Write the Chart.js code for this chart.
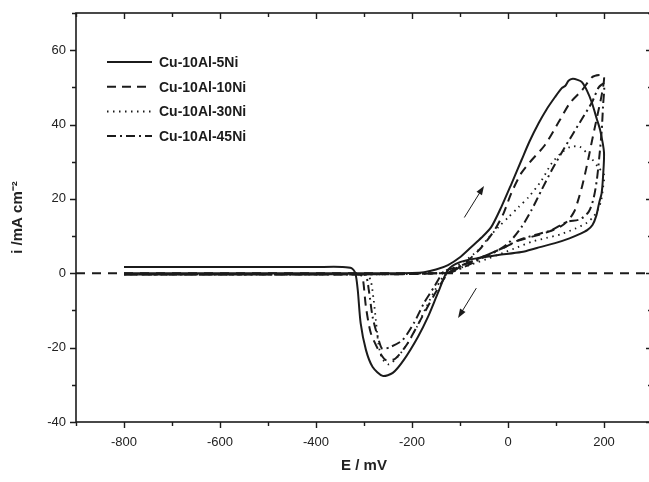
<!DOCTYPE html>
<html>
<head>
<meta charset="utf-8">
<script src="https://cdn.jsdelivr.net/npm/chart.js@4.4.0/dist/chart.umd.min.js"></script>
<style>
  html, body { margin: 0; padding: 0; background: #fff; overflow: hidden; }
  #wrap { width: 649px; height: 482px; overflow: hidden; }
</style>
</head>
<body>
<div id="wrap"><canvas id="cv" width="653" height="482"></canvas></div>
<script>
// Cyclic voltammograms, E in mV, i in mA cm-2 (forward sweep then reverse)
const ni5E = [-800, -600, -400, -300, -250, -200, -175, -150, -125, -100, -77, -55, -35, -14, 7, 28, 45, 64, 80, 98, 112, 120, 126, 135, 145, 154, 165, 175, 185, 192, 200,
  198, 195, 190, 184, 176, 165, 150, 128, 98, 60, 28, -20, -62, -100, -125, -146, -167, -188, -217, -240, -261, -282, -296, -307, -313, -318, -326, -345, -400, -600, -800];
const ni5I = [0, 0, 0, 0, 0, 0.1, 0.3, 1, 2.2, 4.3, 7, 9.6, 12.4, 17.8, 24, 30.4, 35.5, 40.4, 44, 47.4, 49.8, 50.5, 51.8, 52.3, 52, 51.4, 49, 45.8, 41.5, 38.5, 32.5,
  26, 21.5, 19, 15.5, 13, 11.6, 10.6, 9.4, 8.1, 6.8, 5.7, 4.9, 4.1, 3, 0.9, -5.3, -11.8, -17.2, -23.3, -26.8, -27.6, -25.2, -20.6, -13.4, -4.5, 0, 1.4, 1.7, 1.7, 1.7, 1.7];

const ni10E = [-800, -600, -400, -300, -200, -150, -118, -83, -55, -28, -9, 7, 28, 49, 77, 108, 129, 154, 175, 190, 200,
  196, 188, 181, 174, 168, 161, 154, 146, 138, 126, 110, 85, 55, 22, -7, -35, -70, -104, -125, -150, -180, -210, -235, -255, -270, -286, -296, -303, -310, -400, -600, -800];
const ni10I = [-0.3, -0.3, -0.3, -0.3, -0.2, 0, 0.3, 3.5, 7, 11.6, 16.2, 21.6, 27, 30.4, 34.5, 41.2, 45.8, 49.2, 52.7, 53.3, 53,
  48.5, 43.5, 39.3, 35, 31.2, 27, 23.2, 19.6, 16.6, 14.3, 12.6, 11.2, 10, 8.8, 7, 5.4, 3.5, 1.7, 0, -5, -12, -19, -23, -23.3, -20.6, -16, -9, -1, -0.3, -0.3, -0.3, -0.3];

const ni30E = [-800, -600, -400, -300, -200, -150, -130, -97, -62, -41, -20, 1, 22, 43, 70, 91, 112, 130, 150, 170, 188, 200,
  198, 194, 187, 178, 165, 140, 110, 80, 50, 20, -10, -45, -80, -115, -135, -150, -170, -190, -210, -230, -248, -262, -270, -275, -280, -286, -295, -400, -600, -800];
const ni30I = [-0.3, -0.3, -0.3, -0.3, -0.2, 0, 0.5, 2.7, 6.2, 9.5, 12.4, 15.1, 17.8, 20.5, 25, 29.6, 32.5, 34, 34, 31.5, 28.5, 26.5,
  23, 19.5, 17, 15.2, 13.6, 12, 10.5, 9.5, 8.5, 7, 5.5, 3.8, 2.2, 0.8, -1, -4, -9, -14.5, -19, -22.5, -24.5, -23, -19, -13, -7, -2, -0.3, -0.3, -0.3, -0.3];

const ni45E = [-800, -600, -400, -300, -200, -150, -118, -83, -49, -20, 1, 28, 49, 70, 91, 112, 133, 154, 175, 189, 200,
  198, 195, 190, 185, 178, 168, 150, 122, 91, 56, 22, -7, -35, -70, -104, -133, -154, -175, -196, -220, -245, -262, -271, -282, -290, -297, -320, -600, -800];
const ni45I = [-0.3, -0.3, -0.3, -0.3, -0.2, 0, 0.3, 2.2, 4.4, 6.2, 8.1, 12.4, 17, 22.4, 27.7, 32.5, 37, 41.5, 46, 50, 51,
  45, 38, 31, 25, 20, 16.5, 14.5, 13.8, 11.6, 10.3, 8.9, 7, 5.4, 3.5, 1.7, 0.5, -3.7, -8, -13.4, -18, -19.8, -20.3, -17.2, -11.8, -4.5, -0.5, -0.3, -0.3, -0.3];

const seriesLabels = ['Cu-10Al-5Ni', 'Cu-10Al-10Ni', 'Cu-10Al-30Ni', 'Cu-10Al-45Ni'];
const seriesDash = [[], [9, 6], [1.5, 4.5], [9, 4, 2, 4]];

// sweep direction arrows, [E0, i0, E1, i1]
const arrowUp = [-91, 15, -50, 23.5];
const arrowDown = [-66, -4, -104, -12];

const zeroLineE = [-900, 300];

const xMin = -900, xMax = 300, yMin = -40, yMax = 70;
const ink = '#1b1b1b';

function pts(xs, ys) {
    return xs.map((x, k) => ({ x: x, y: ys[k] }));
}

const curves = [pts(ni5E, ni5I), pts(ni10E, ni10I), pts(ni30E, ni30I), pts(ni45E, ni45I)];

const datasets = curves.map((d, k) => ({
    label: seriesLabels[k],
    data: d,
    borderColor: ink,
    borderWidth: k === 2 ? 1.8 : 2,
    borderDash: seriesDash[k],
    pointRadius: 0,
    tension: 0.25,
    fill: false
}));
datasets.push({
    label: 'zero',
    data: zeroLineE.map(x => ({ x: x, y: 0 })),
    borderColor: ink,
    borderWidth: 1.8,
    borderDash: [9, 7],
    pointRadius: 0,
    fill: false
});

// frame, tick marks, legend and arrows
const decorPlugin = {
    id: 'decor',
    afterDatasetsDraw(chart) {
        const ctx = chart.ctx;
        const a = chart.chartArea;
        const xs = chart.scales.x, ys = chart.scales.y;
        ctx.save();
        ctx.strokeStyle = ink;
        ctx.setLineDash([]);

        ctx.lineWidth = 1.6;
        ctx.strokeRect(a.left, a.top, a.right - a.left, a.bottom - a.top);

        ctx.lineWidth = 1.4;
        ctx.beginPath();
        for (let v = xMin; v <= xMax; v += 100) {
            const px = Math.round(xs.getPixelForValue(v)) + 0.5;
            const len = (v % 200 === 0) ? 6 : 4;
            ctx.moveTo(px, a.bottom); ctx.lineTo(px, a.bottom + len);
            ctx.moveTo(px, a.top); ctx.lineTo(px, a.top + len);
        }
        for (let v = yMin; v <= yMax; v += 10) {
            const py = Math.round(ys.getPixelForValue(v)) + 0.5;
            const len = (v % 20 === 0) ? 6 : 4;
            ctx.moveTo(a.left, py); ctx.lineTo(a.left - len, py);
            ctx.moveTo(a.right, py); ctx.lineTo(a.right - len, py);
        }
        ctx.stroke();

        // legend
        ctx.font = 'bold 14px "Liberation Sans", Arial, sans-serif';
        ctx.fillStyle = ink;
        ctx.textBaseline = 'middle';
        seriesLabels.forEach((lab, k) => {
            const y = 62 + k * 24.7;
            ctx.lineWidth = 2;
            ctx.setLineDash(seriesDash[k]);
            ctx.beginPath();
            ctx.moveTo(107, y); ctx.lineTo(152, y);
            ctx.stroke();
            ctx.setLineDash([]);
            ctx.fillText(lab, 159, y + 1);
        });

        // arrows
        [arrowUp, arrowDown].forEach(ar => {
            const x0 = xs.getPixelForValue(ar[0]), y0 = ys.getPixelForValue(ar[1]);
            const x1 = xs.getPixelForValue(ar[2]), y1 = ys.getPixelForValue(ar[3]);
            const ang = Math.atan2(y1 - y0, x1 - x0);
            ctx.lineWidth = 1;
            ctx.beginPath();
            ctx.moveTo(x0, y0); ctx.lineTo(x1 - 6 * Math.cos(ang), y1 - 6 * Math.sin(ang));
            ctx.stroke();
            ctx.beginPath();
            ctx.moveTo(x1, y1);
            ctx.lineTo(x1 - 9 * Math.cos(ang) + 3.2 * Math.sin(ang), y1 - 9 * Math.sin(ang) - 3.2 * Math.cos(ang));
            ctx.lineTo(x1 - 9 * Math.cos(ang) - 3.2 * Math.sin(ang), y1 - 9 * Math.sin(ang) + 3.2 * Math.cos(ang));
            ctx.closePath();
            ctx.fill();
        });
        ctx.restore();
    }
};

const tickFont = { family: '"Liberation Sans", Arial, sans-serif', size: 13 };
const titleFont = { family: '"Liberation Sans", Arial, sans-serif', size: 15, weight: 'bold' };

new Chart(document.getElementById('cv'), {
    type: 'line',
    data: { datasets: datasets },
    options: {
        responsive: false,
        devicePixelRatio: 1,
        animation: false,
        layout: { padding: { top: 13, right: 1, left: 0, bottom: 0 } },
        plugins: {
            legend: { display: false },
            tooltip: { enabled: false }
        },
        scales: {
            x: {
                type: 'linear',
                min: xMin,
                max: xMax,
                grid: { display: false, drawTicks: false },
                border: { display: false },
                ticks: {
                    stepSize: 100,
                    autoSkip: false,
                    maxRotation: 0,
                    padding: 13,
                    color: '#222',
                    font: tickFont,
                    callback: v => (v % 200 === 0 && v >= -800 && v <= 200) ? v : ''
                },
                title: { display: true, text: 'E / mV', color: '#222', font: titleFont, padding: { top: 0, bottom: 7 } },
                afterFit: s => { s.height = 60; s.paddingLeft = 0; s.paddingRight = 0; }
            },
            y: {
                min: yMin,
                max: yMax,
                grid: { display: false, drawTicks: false },
                border: { display: false },
                ticks: {
                    stepSize: 10,
                    autoSkip: false,
                    padding: 10,
                    color: '#222',
                    font: tickFont,
                    callback: v => (v % 20 === 0 && v <= 60) ? v : ''
                },
                title: { display: true, text: 'i /mA cm\u207B\u00B2', color: '#222', font: titleFont, padding: { top: 9, bottom: 0 } },
                afterFit: s => { s.width = 76; s.paddingTop = 0; s.paddingBottom = 0; }
            }
        }
    },
    plugins: [decorPlugin]
});
</script>
</body>
</html>
